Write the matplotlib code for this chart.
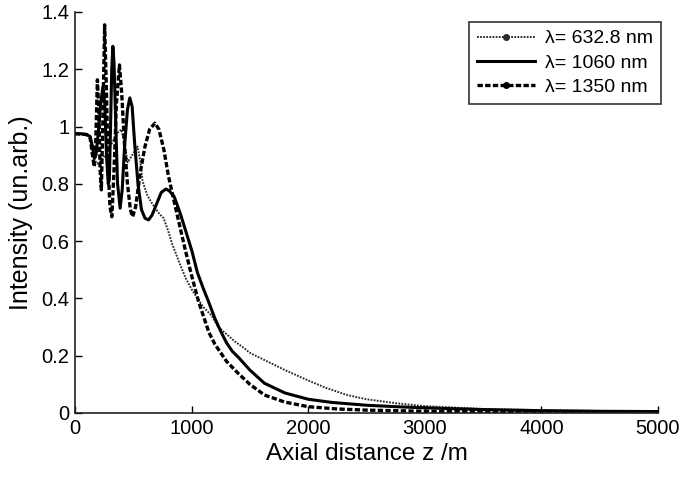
import matplotlib
matplotlib.use("Agg")
import matplotlib.pyplot as plt
from matplotlib.lines import Line2D

plt.rcParams['font.family'] = ['Liberation Sans', 'DejaVu Sans']

# lambda = 632.8 nm (dotted)
z_6328 = [0, 100, 130, 150, 170, 190, 220, 260, 300, 340, 370, 396, 420, 452, 490, 536,
          560, 579, 620, 663, 720, 760, 800, 833, 900, 950, 1003, 1059, 1100, 1172, 1229,
          1300, 1370, 1452, 1500, 1624, 1800, 1992, 2150, 2331, 2500, 2754, 3000, 3500,
          4000, 4500, 5000]
i_6328 = [0.975, 0.972, 0.96, 0.92, 0.88, 0.87, 0.88, 0.90, 0.93, 0.96, 0.98, 0.99, 0.95,
          0.875, 0.90, 0.93, 0.88, 0.81, 0.76, 0.73, 0.697, 0.68, 0.635, 0.59, 0.52, 0.47,
          0.43, 0.395, 0.37, 0.34, 0.30, 0.275, 0.25, 0.226, 0.21, 0.185, 0.15, 0.115,
          0.088, 0.063, 0.048, 0.034, 0.024, 0.014, 0.010, 0.007, 0.005]

# lambda = 1060 nm (solid)
z_1060 = [0, 50, 100, 130, 150, 165, 180, 200, 220, 240, 255, 270, 285, 295, 305, 315, 325,
          335, 350, 365, 387, 405, 425, 450, 470, 490, 510, 540, 570, 600, 630, 660, 700,
          740, 780, 810, 851, 900, 950, 1003, 1050, 1100, 1144, 1200, 1250, 1300, 1350,
          1400, 1500, 1624, 1800, 2000, 2200, 2500, 2750, 3000, 3500, 4000, 4500, 5000]
i_1060 = [0.975, 0.975, 0.972, 0.965, 0.93, 0.89, 0.90, 0.98, 1.08, 1.14, 1.08, 0.90, 0.80,
          0.82, 1.00, 1.20, 1.28, 1.22, 1.00, 0.80, 0.715, 0.78, 0.93, 1.06, 1.10, 1.07,
          0.95, 0.80, 0.71, 0.68, 0.674, 0.69, 0.73, 0.77, 0.782, 0.775, 0.755, 0.70, 0.635,
          0.565, 0.49, 0.435, 0.39, 0.33, 0.285, 0.245, 0.215, 0.195, 0.15, 0.104, 0.07,
          0.048, 0.037, 0.027, 0.022, 0.018, 0.012, 0.008, 0.006, 0.005]

# lambda = 1350 nm (dashed)
z_1350 = [0, 100, 130, 150, 165, 178, 192, 205, 215, 226, 238, 254, 268, 285, 300, 316, 335,
          355, 381, 400, 424, 450, 475, 494, 520, 560, 600, 640, 686, 720, 763, 800, 847,
          900, 946, 1000, 1059, 1100, 1150, 1200, 1300, 1398, 1500, 1624, 1800, 2000, 2250,
          2500, 3000, 4000, 5000]
i_1350 = [0.975, 0.972, 0.96, 0.90, 0.86, 0.95, 1.163, 1.05, 0.85, 0.779, 1.0, 1.355, 1.15,
          0.85, 0.72, 0.685, 0.85, 1.08, 1.215, 1.12, 0.94, 0.80, 0.71, 0.685, 0.72, 0.84,
          0.93, 0.99, 1.012, 0.99, 0.918, 0.83, 0.744, 0.65, 0.569, 0.48, 0.39, 0.34, 0.28,
          0.24, 0.18, 0.139, 0.10, 0.063, 0.038, 0.022, 0.014, 0.010, 0.006, 0.004, 0.003]

labels = ['λ= 632.8 nm', 'λ= 1060 nm', 'λ= 1350 nm']
x_ticks = [0, 1000, 2000, 3000, 4000, 5000]
y_ticks = [0, 0.2, 0.4, 0.6, 0.8, 1.0, 1.2, 1.4]
y_ticklabels = ['0', '0.2', '0.4', '0.6', '0.8', '1', '1.2', '1.4']

fig = plt.figure(figsize=(6.85, 4.78), dpi=100)
ax = fig.add_axes([0.1095, 0.136, 0.851, 0.839])

dot_style = dict(color='#2a2a2a', lw=1.4, linestyle=(0, (0.9, 0.7)))
sol_style = dict(color='black', lw=2.2, linestyle='-')
das_style = dict(color='black', lw=2.4, linestyle=(0, (1.6, 0.7)))

ax.plot(z_6328, i_6328, **dot_style)
ax.plot(z_1060, i_1060, **sol_style)
ax.plot(z_1350, i_1350, **das_style)

ax.set_xlim(0, 5000)
ax.set_ylim(0, 1.4)
ax.set_xticks(x_ticks)
ax.set_yticks(y_ticks)
ax.set_yticklabels(y_ticklabels)
ax.tick_params(direction='in', length=5, width=1, labelsize=14.5, pad=4)
for s in ['top', 'right']:
    ax.spines[s].set_visible(False)
for s in ['left', 'bottom']:
    ax.spines[s].set_linewidth(1.2)
    ax.spines[s].set_color('#222222')

ax.set_xlabel('Axial distance z /m', fontsize=17.5, labelpad=4)
ax.set_ylabel('Intensity (un.arb.)', fontsize=18, labelpad=6)

handles = [Line2D([], [], marker='.', markersize=8, **dot_style),
           Line2D([], [], **sol_style),
           Line2D([], [], marker='.', markersize=8, **das_style)]
leg = ax.legend(handles, labels, loc='upper right', bbox_to_anchor=(1.005, 0.975),
                fontsize=14, frameon=True, fancybox=False, numpoints=1,
                handlelength=3.0, labelspacing=0.35, borderpad=0.4, handletextpad=0.5,
                borderaxespad=0.0)
leg.get_frame().set_edgecolor('black')
leg.get_frame().set_linewidth(1.2)

fig.savefig('out.png', dpi=100)
